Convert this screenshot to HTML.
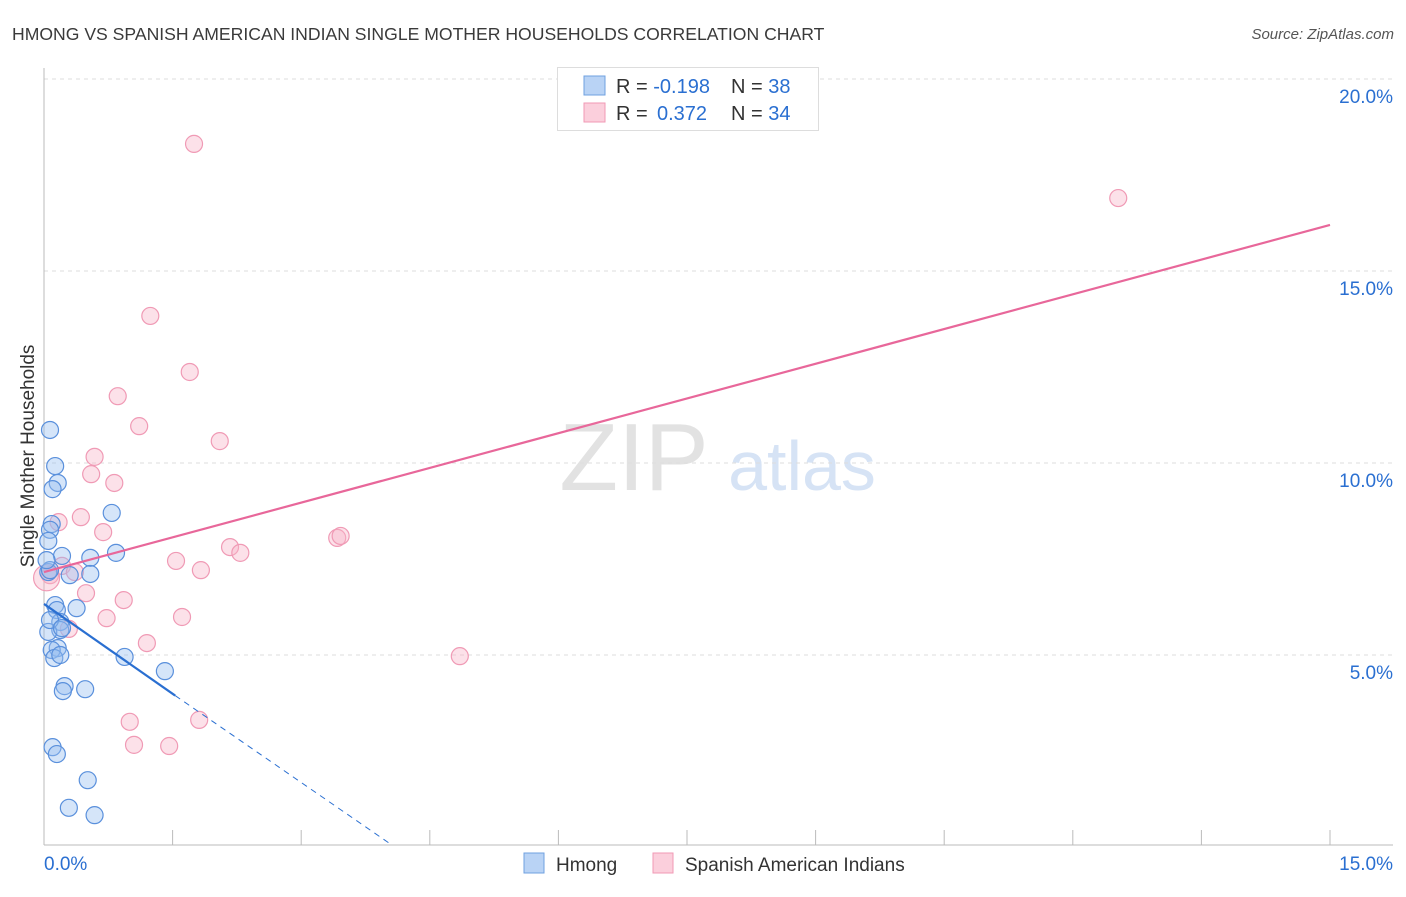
<!DOCTYPE html>
<html><head><meta charset="utf-8"><style>
body{margin:0;background:#fff;font-family:"Liberation Sans",sans-serif}
svg text{font-family:"Liberation Sans",sans-serif}
</style></head><body>
<svg id="c" width="1406" height="892">
<text x="12" y="40" font-size="17.6" fill="#3a3a3a">HMONG VS SPANISH AMERICAN INDIAN SINGLE MOTHER HOUSEHOLDS CORRELATION CHART</text>
<text x="1394" y="39" font-size="15" fill="#555" font-style="italic" text-anchor="end">Source: ZipAtlas.com</text>
<text x="634" y="490" font-size="96" fill="#e2e2e2" font-family="Liberation Serif" text-anchor="middle">ZIP</text>
<text x="802" y="490" font-size="70" fill="#d6e3f5" text-anchor="middle">atlas</text>
<text transform="translate(34,456) rotate(-90)" font-size="19" fill="#333" text-anchor="middle">Single Mother Households</text>
<g id="grid"></g><g id="marks"></g>
<g>
<rect x="557.5" y="67.5" width="261" height="63" fill="#fff" stroke="#ddd"/>
<rect x="584" y="76" width="21" height="19" fill="#b9d3f5" stroke="#6fa0e0"/>
<rect x="584" y="103" width="21" height="19" fill="#fbcfdc" stroke="#f09ab5"/>
<text x="616" y="93" font-size="20" fill="#333">R = <tspan fill="#2a6fd1">-0.198</tspan><tspan x="731">N = </tspan><tspan fill="#2a6fd1">38</tspan></text>
<text x="616" y="120" font-size="20" fill="#333">R = <tspan x="657" fill="#2a6fd1">0.372</tspan><tspan x="731">N = </tspan><tspan fill="#2a6fd1">34</tspan></text>
</g>
<rect x="524" y="853" width="20" height="20" fill="#b9d3f5" stroke="#6fa0e0"/>
<text x="556" y="871" font-size="19" fill="#333">Hmong</text>
<rect x="653" y="853" width="20" height="20" fill="#fbcfdc" stroke="#f09ab5"/>
<text x="685" y="871" font-size="19" fill="#333">Spanish American Indians</text>
</svg>
<script>
const hmongX=[0.07,0.13,0.16,0.10,0.09,0.07,0.05,0.21,0.54,0.84,0.05,0.30,0.54,0.13,0.15,0.38,0.19,0.19,0.05,0.16,0.09,0.12,0.94,1.41,0.24,0.48,0.22,0.10,0.15,0.51,0.29,0.59,0.79,0.07,0.07,0.21,0.19,0.03];
const hmongY=[10.86,9.92,9.48,9.32,8.41,8.26,7.97,7.58,7.53,7.66,7.16,7.08,7.11,6.30,6.17,6.22,5.86,5.65,5.60,5.18,5.13,4.92,4.95,4.58,4.19,4.11,4.06,2.60,2.42,1.74,1.02,0.83,8.70,7.21,5.91,5.70,5.00,7.47];
const spanX=[1.75,12.53,1.24,1.70,0.86,1.11,2.05,0.59,0.55,0.82,0.43,0.17,0.69,2.17,2.29,3.42,3.46,1.54,1.83,0.21,0.36,0.07,0.03,0.49,0.93,0.73,1.61,0.29,1.20,4.85,1.00,1.81,1.05,1.46];
const spanY=[18.31,16.90,13.83,12.37,11.74,10.96,10.57,10.16,9.71,9.48,8.59,8.46,8.20,7.81,7.66,8.05,8.10,7.45,7.21,7.32,7.16,7.08,7.01,6.61,6.43,5.96,5.99,5.68,5.31,4.97,3.26,3.31,2.66,2.63];
const yTicks=[5,10,15,20];
const xTickCount=10;
const hmongTrend=[6.33,-1.56];
const spanTrend=[7.16,0.6027];
const NS="http://www.w3.org/2000/svg";
const X=v=>44+v/15*1286, Y=v=>847-v/5*192;
function mk(tag,at,parent){const e=document.createElementNS(NS,tag);for(const k in at)e.setAttribute(k,at[k]);parent.appendChild(e);return e;}
const grid=document.getElementById('grid'), marks=document.getElementById('marks');
yTicks.forEach(t=>{
 const l=mk('line',{x1:44,x2:1393,y1:Y(t),y2:Y(t),stroke:'#ddd','stroke-dasharray':'4,4'},grid);
 
 
 const tx=mk('text',{x:1393,y:Y(t)+24,'font-size':19,fill:'#2a6fd1','text-anchor':'end'},grid);
 tx.textContent=t.toFixed(1)+'%';
 
 
});
const ax=mk('line',{x1:44,x2:44,y1:68,y2:845,stroke:'#bbb'},grid);


const bx=mk('line',{x1:44,x2:1393,y1:845,y2:845,stroke:'#bbb'},grid);


for(let i=1;i<=xTickCount;i++){const xv=i*15/xTickCount;
 const t=mk('line',{x1:X(xv),x2:X(xv),y1:830,y2:845,stroke:'#bbb'},grid);
 
 }
[[0,'0.0%',44,'start'],[15,'15.0%',1393,'end']].forEach(a=>{
 const t=mk('text',{x:a[2],y:870,'font-size':19,fill:'#2a6fd1','text-anchor':a[3]},grid);
 t.textContent=a[1];
 
 });
spanX.forEach((x,i)=>{
 const c=mk('circle',{cx:X(x),cy:Y(spanY[i]),r:i==22?13:8.5,fill:'rgba(248,180,200,0.4)',stroke:'#f09ab5','stroke-width':1.2},marks);
 
 });
hmongX.forEach((x,i)=>{
 const c=mk('circle',{cx:X(x),cy:Y(hmongY[i]),r:8.5,fill:'rgba(150,190,240,0.4)',stroke:'#5a90dc','stroke-width':1.2},marks);
 
 });
const pl=mk('line',{x1:X(0),y1:Y(spanTrend[0]),x2:X(15),y2:Y(spanTrend[0]+15*spanTrend[1]),stroke:'#e8679a','stroke-width':2.2},marks);


const hx1=1.53, hx0=-hmongTrend[0]/hmongTrend[1];
const hl=mk('line',{x1:X(0),y1:Y(hmongTrend[0]),x2:X(hx1),y2:Y(hmongTrend[0]+hx1*hmongTrend[1]),stroke:'#2a6fd1','stroke-width':2.2},marks);


const hd=mk('line',{x1:X(hx1),y1:Y(hmongTrend[0]+hx1*hmongTrend[1]),x2:X(hx0),y2:Math.min(845,Y(0)),stroke:'#2a6fd1','stroke-width':1,'stroke-dasharray':'6,5'},marks);


</script>
</body></html>
